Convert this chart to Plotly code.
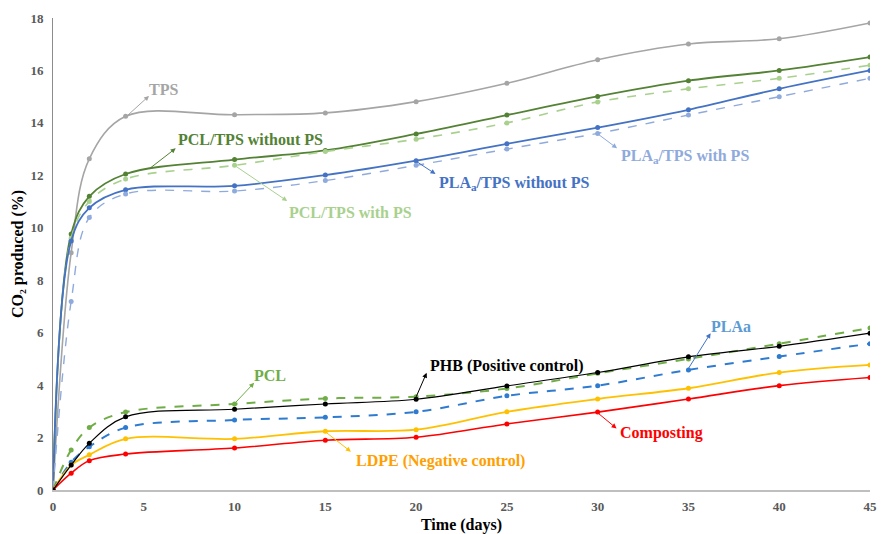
import plotly.graph_objects as go

days = [0, 1, 2, 4, 10, 15, 20, 25, 30, 35, 40, 45]

tps = [0, 9.05, 12.63, 14.25, 14.31, 14.38, 14.81, 15.51, 16.41, 17.01, 17.21, 17.81]
pcl_tps_without = [0, 9.76, 11.2, 12.05, 12.6, 12.95, 13.58, 14.3, 15.01, 15.61, 16.0, 16.51]
pcl_tps_with = [0, 9.6, 11.0, 11.86, 12.38, 12.91, 13.38, 14.0, 14.8, 15.3, 15.7, 16.2]
pla_tps_without = [0, 9.5, 10.76, 11.45, 11.6, 12.01, 12.56, 13.2, 13.82, 14.5, 15.3, 16.0]
pla_tps_with = [0, 7.19, 10.39, 11.29, 11.4, 11.8, 12.38, 13.0, 13.6, 14.3, 15.0, 15.7]
pcl = [0, 1.53, 2.38, 2.97, 3.28, 3.49, 3.56, 3.87, 4.45, 5.0, 5.58, 6.18]
phb = [0, 0.95, 1.78, 2.79, 3.08, 3.28, 3.46, 3.97, 4.48, 5.08, 5.48, 5.98]
plaa = [0, 1.06, 1.65, 2.38, 2.67, 2.77, 2.98, 3.59, 3.98, 4.58, 5.09, 5.58]
ldpe = [0, 0.95, 1.34, 1.95, 1.95, 2.24, 2.30, 2.98, 3.47, 3.88, 4.48, 4.77]
composting = [0, 0.64, 1.12, 1.37, 1.60, 1.90, 2.01, 2.52, 2.97, 3.47, 3.98, 4.29]

x_ticks = [0, 5, 10, 15, 20, 25, 30, 35, 40, 45]
y_ticks = [0, 2, 4, 6, 8, 10, 12, 14, 16, 18]

series = [
    ("TPS", tps, "#A5A5A5", "solid", 1.6),
    ("PCL/TPS without PS", pcl_tps_without, "#548235", "solid", 1.8),
    ("PCL/TPS with PS", pcl_tps_with, "#A9D18E", "dash", 1.6),
    ("PLAa/TPS without PS", pla_tps_without, "#4472C4", "solid", 1.8),
    ("PLAa/TPS with PS", pla_tps_with, "#8FAADC", "dash", 1.4),
    ("PCL", pcl, "#70AD47", "dash", 2.0),
    ("PLAa", plaa, "#2E7BD0", "dash", 2.0),
    ("LDPE", ldpe, "#FFC000", "solid", 1.8),
    ("Composting", composting, "#FF0000", "solid", 1.6),
    ("PHB", phb, "#000000", "solid", 1.2),
]

fig = go.Figure()
for name, vals, color, dash, w in series:
    fig.add_trace(go.Scatter(
        x=days, y=vals, mode="lines+markers", name=name,
        line=dict(color=color, dash=dash, width=w, shape="spline", smoothing=1.0),
        marker=dict(color=color, size=5),
        showlegend=False,
    ))

FONT = "'Liberation Serif', 'DejaVu Serif', 'Times New Roman', serif"

# (text, text_x, text_y, tail_x, tail_y, head_x, head_y, text color, arrow color)
labels = [
    ("<b>TPS</b>", 6.11, 15.29, 4.02, 14.23, 5.29, 15.03, "#A5A5A5", "#A5A5A5"),
    ("<b>PCL/TPS without PS</b>", 10.9, 13.35, 5.21, 12.2, 6.76, 13.03, "#548235", "#548235"),
    ("<b>PCL/TPS with PS</b>", 16.38, 10.58, 10.02, 12.37, 12.9, 11.02, "#A9D18E", "#A9D18E"),
    ("<b>PLA<sub>a</sub>/TPS without PS</b>", 25.42, 11.7, 19.97, 12.55, 21.07, 12.05, "#4472C4", "#4472C4"),
    ("<b>PLA<sub>a</sub>/TPS with PS</b>", 34.83, 12.71, 29.97, 13.6, 31.07, 13.03, "#8FAADC", "#8FAADC"),
    ("<b>PCL</b>", 11.95, 4.35, 9.98, 3.28, 11.08, 4.09, "#70AD47", "#70AD47"),
    ("<b>PHB (Positive control)</b>", 24.96, 4.74, 19.97, 3.5, 20.58, 4.47, "#000000", "#000000"),
    ("<b>LDPE (Negative control)</b>", 21.37, 1.12, 15.0, 2.22, 16.41, 1.46, "#FFA000", "#FFC000"),
    ("<b>PLAa</b>", 37.35, 6.23, 34.95, 4.58, 36.22, 5.98, "#5B9BD5", "#4472C4"),
    ("<b>Composting</b>", 33.54, 2.16, 29.97, 2.96, 31.04, 2.35, "#FF0000", "#FF0000"),
]

annotations = []
for text, tx, ty, x0, y0, x1, y1, tc, ac in labels:
    annotations.append(dict(
        x=x1, y=y1, ax=x0, ay=y0, xref="x", yref="y", axref="x", ayref="y",
        text="", showarrow=True, arrowhead=2, arrowsize=1, arrowwidth=1,
        arrowcolor=ac, standoff=0, startstandoff=0,
    ))
    annotations.append(dict(
        x=tx, y=ty, xref="x", yref="y", text=text, showarrow=False,
        xanchor="center", yanchor="middle",
        font=dict(family=FONT, size=16, color=tc),
    ))

fig.update_layout(
    width=896, height=534,
    margin=dict(l=53, r=26, t=18, b=44),
    paper_bgcolor="white", plot_bgcolor="white",
    annotations=annotations,
    xaxis=dict(
        range=[0, 45], tickvals=x_ticks, ticktext=[f"<b>{v}</b>" for v in x_ticks],
        showgrid=False, zeroline=False, showline=True, linecolor="#BFBFBF", linewidth=1.5,
        ticks="", automargin=False, ticklabelstandoff=4,
        tickfont=dict(family=FONT, size=13, color="#595959"),
        title=dict(text="<b>Time (days)</b>", font=dict(family=FONT, size=16, color="#000000"), standoff=10),
    ),
    yaxis=dict(
        range=[0, 18], tickvals=y_ticks, ticktext=[f"<b>{v}</b>" for v in y_ticks],
        showgrid=False, zeroline=False, showline=True, linecolor="#8C8C8C", linewidth=1,
        ticks="", ticklabelstandoff=6, automargin=False,
        tickfont=dict(family=FONT, size=13, color="#595959"),
        title=dict(text="<b>CO₂ produced (%)</b>", font=dict(family=FONT, size=16, color="#000000"), standoff=2),
    ),
)

fig.write_html(
    "out.html",
    config={"displayModeBar": False},
    post_script="document.body.style.margin='0';document.body.style.overflow='hidden';",
)
